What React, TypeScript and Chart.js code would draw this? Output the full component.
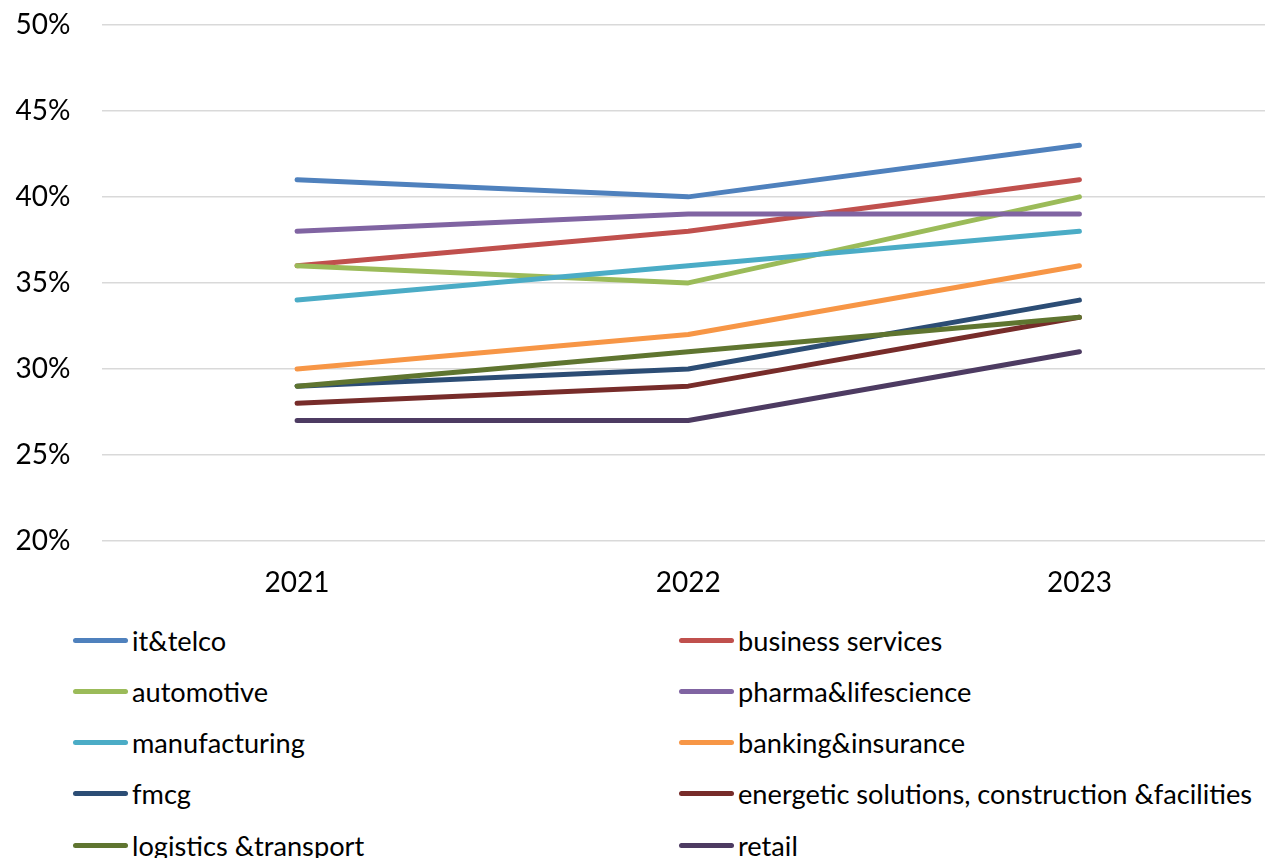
import React, { useEffect, useRef } from "react";
import { Chart, registerables } from "chart.js";

Chart.register(...registerables);

const years = ["2021", "2022", "2023"];

const seriesNames = [
  "it&telco",
  "business services",
  "automotive",
  "pharma&lifescience",
  "manufacturing",
  "banking&insurance",
  "fmcg",
  "energetic solutions, construction &facilities",
  "logistics &transport",
  "retail",
];

const itTelco = [41, 40, 43];
const businessServices = [36, 38, 41];
const automotive = [36, 35, 40];
const pharma = [38, 39, 39];
const manufacturing = [34, 36, 38];
const banking = [30, 32, 36];
const fmcg = [29, 30, 34];
const energetic = [28, 29, 33];
const logistics = [29, 31, 33];
const retail = [27, 27, 31];

const seriesValues = [
  itTelco,
  businessServices,
  automotive,
  pharma,
  manufacturing,
  banking,
  fmcg,
  energetic,
  logistics,
  retail,
];

const seriesColors = [
  "#4F81BD",
  "#C0504D",
  "#9BBB59",
  "#8064A2",
  "#4BACC6",
  "#F79646",
  "#2C4D75",
  "#772C2A",
  "#5F7530",
  "#4D3B62",
];

const yMin = 20;
const yMax = 50;
const yStep = 5;

const FONT = "Lato, 'Open Sans', sans-serif";

export default function App() {
  const canvasRef = useRef<HTMLCanvasElement | null>(null);

  useEffect(() => {
    if (!canvasRef.current) return;
    const n = seriesNames.length;
    const chart = new Chart(canvasRef.current, {
      type: "line",
      data: {
        labels: years,
        datasets: seriesNames.map((name, i) => ({
          label: name,
          data: seriesValues[i],
          borderColor: seriesColors[i],
          backgroundColor: seriesColors[i],
          borderWidth: 5,
          borderCapStyle: "round" as const,
          borderJoinStyle: "round" as const,
          pointRadius: 0,
          pointHoverRadius: 0,
          tension: 0,
          fill: false,
          order: n - i,
        })),
      },
      options: {
        responsive: false,
        animation: false,
        maintainAspectRatio: false,
        layout: { padding: { top: 1, left: 0, right: 0, bottom: 0 } },
        plugins: {
          legend: { display: false },
          tooltip: { enabled: false },
        },
        scales: {
          x: {
            offset: true,
            afterFit: (scale: any) => {
              scale.height = 59;
            },
            grid: { display: false, drawTicks: false },
            border: { display: false },
            ticks: {
              color: "#000",
              padding: 25,
              font: { family: FONT, size: 28 },
            },
          },
          y: {
            min: yMin,
            max: yMax,
            afterFit: (scale: any) => {
              scale.width = 101.5;
            },
            grid: { color: "#d9d9d9", lineWidth: 1.5, drawTicks: false },
            border: { display: false },
            ticks: {
              stepSize: yStep,
              color: "#000",
              padding: 31,
              font: { family: FONT, size: 28 },
              callback: (v: any) => `${v}%`,
            },
          },
        },
      },
    });
    return () => chart.destroy();
  }, []);

  return (
    <div
      style={{
        position: "fixed",
        left: 0,
        top: 0,
        width: 1265,
        height: 858,
        overflow: "hidden",
        background: "#fff",
      }}
    >
      <canvas
        ref={canvasRef}
        width={1275}
        height={623}
        style={{ position: "absolute", left: 0, top: -23, width: 1275, height: 623 }}
      />
      {seriesNames.map((name, i) => {
        const col = i % 2;
        const row = Math.floor(i / 2);
        const lineLeft = col === 0 ? 73 : 679;
        const cy = 640 + row * 51.3;
        return (
          <div
            key={name}
            style={{
              position: "absolute",
              left: lineLeft,
              top: cy - 20,
              height: 40,
              display: "flex",
              alignItems: "center",
              whiteSpace: "nowrap",
              fontFamily: FONT,
              fontSize: 27.2,
              color: "#000",
            }}
          >
            <span
              style={{
                display: "inline-block",
                width: 55,
                height: 5,
                borderRadius: 3,
                background: seriesColors[i],
                marginRight: 4,
              }}
            />
            <span>{name}</span>
          </div>
        );
      })}
    </div>
  );
}
